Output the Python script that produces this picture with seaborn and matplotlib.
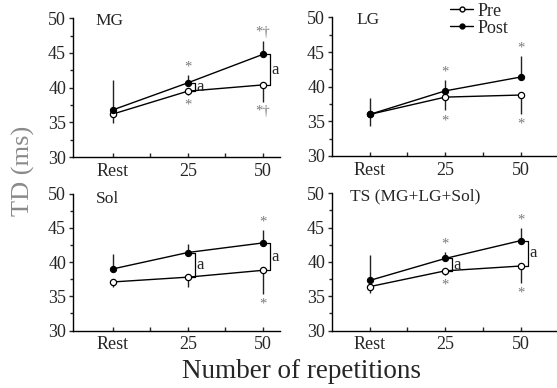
import numpy as np
import matplotlib
matplotlib.use("Agg")
import matplotlib.pyplot as plt
import seaborn as sns
from matplotlib.ticker import MultipleLocator, FixedLocator
from matplotlib.lines import Line2D

# --- DATA ---
conditions = ["Rest", "25", "50"]

mg_pre = [36.2, 39.5, 40.4]
mg_pre_err = [1.3, 0.5, 2.4]
mg_post = [36.8, 40.7, 44.8]
mg_post_err = [4.3, 1.1, 1.9]
mg_star_up = ["", "*", "*\u2020"]
mg_star_down = ["", "*", "*\u2020"]
mg_sig = [1, 2]

lg_pre = [36.0, 38.5, 38.8]
lg_pre_err = [1.6, 1.9, 2.7]
lg_post = [36.0, 39.4, 41.4]
lg_post_err = [2.3, 1.5, 3.0]
lg_star_up = ["", "*", "*"]
lg_star_down = ["", "*", "*"]
lg_sig = []

sol_pre = [37.1, 37.8, 38.8]
sol_pre_err = [0.8, 1.5, 3.4]
sol_post = [39.0, 41.4, 42.8]
sol_post_err = [2.2, 1.3, 1.9]
sol_star_up = ["", "", "*"]
sol_star_down = ["", "", "*"]
sol_sig = [1, 2]

ts_pre = [36.4, 38.7, 39.4]
ts_pre_err = [0.9, 0.6, 2.5]
ts_post = [37.3, 40.5, 43.1]
ts_post_err = [3.7, 0.9, 1.8]
ts_star_up = ["", "*", "*"]
ts_star_down = ["", "*", "*"]
ts_sig = [1, 2]

sns.set_style("ticks")
plt.rcParams["font.family"] = ["Liberation Serif", "DejaVu Serif"]

fig = plt.figure(figsize=(5.57, 3.88), dpi=100)

panels = [
    ("MG", [0.131, 0.595, 0.372, 0.358], (-0.53, 2.23),
     mg_pre, mg_pre_err, mg_post, mg_post_err, mg_star_up, mg_star_down, mg_sig, (0.11, 0.98)),
    ("LG", [0.596, 0.598, 0.404, 0.357], (-0.5, 2.48),
     lg_pre, lg_pre_err, lg_post, lg_post_err, lg_star_up, lg_star_down, lg_sig, (0.107, 0.98)),
    ("Sol", [0.131, 0.148, 0.372, 0.353], (-0.53, 2.23),
     sol_pre, sol_pre_err, sol_post, sol_post_err, sol_star_up, sol_star_down, sol_sig, (0.11, 0.96)),
    ("TS (MG+LG+Sol)", [0.596, 0.148, 0.404, 0.354], (-0.5, 2.48),
     ts_pre, ts_pre_err, ts_post, ts_post_err, ts_star_up, ts_star_down, ts_sig, (0.08, 0.98)),
]

x = np.arange(len(conditions))
star_col = "#7a7a7a"

for title, rect, xlim, pre, pre_e, post, post_e, s_up, s_dn, sig, tpos in panels:
    ax = fig.add_axes(rect)
    zeros = np.zeros(len(x))
    ax.errorbar(x, post, yerr=[zeros, post_e], fmt="none", ecolor="#222222",
                elinewidth=1, capsize=0, zorder=1)
    ax.errorbar(x, pre, yerr=[pre_e, zeros], fmt="none", ecolor="#222222",
                elinewidth=1, capsize=0, zorder=1)
    sns.lineplot(x=x, y=pre, ax=ax, color="black", lw=1, marker="o", markersize=4.5,
                 markerfacecolor="white", markeredgecolor="black", markeredgewidth=0.9, zorder=3)
    sns.lineplot(x=x, y=post, ax=ax, color="black", lw=1, marker="o", markersize=4.5,
                 markerfacecolor="black", markeredgecolor="black", zorder=3)

    # significance stars
    for i in range(len(x)):
        if s_up[i]:
            ax.text(x[i], post[i] + post_e[i] + 1.2, s_up[i], ha="center", va="center",
                    color=star_col, fontsize=10.5)
        if s_dn[i]:
            ax.text(x[i], pre[i] - pre_e[i] - 1.5, s_dn[i], ha="center", va="center",
                    color=star_col, fontsize=10.5)

    # Pre vs Post brackets
    for i in sig:
        bx = x[i] + 0.09
        ax.plot([bx - 0.06, bx, bx, bx - 0.06], [post[i], post[i], pre[i], pre[i]],
                color="black", lw=0.9)
        ax.text(bx + 0.02, (post[i] + pre[i]) / 2, "a", ha="left", va="center", fontsize=12)

    ax.text(tpos[0], tpos[1], title, transform=ax.transAxes, ha="left", va="center",
            fontsize=12.5)

    ax.set_xlim(*xlim)
    ax.set_ylim(30, 50)
    ax.set_xticks(x)
    ax.set_xticklabels(conditions)
    ax.xaxis.set_minor_locator(FixedLocator([0.5, 1.5]))
    ax.yaxis.set_major_locator(MultipleLocator(5))
    ax.yaxis.set_minor_locator(MultipleLocator(2.5))
    ax.tick_params(axis="x", which="both", direction="in", length=3, width=1, labelsize=13, pad=4)
    ax.tick_params(axis="y", which="major", direction="out", length=3, width=1, labelsize=13, pad=2)
    ax.tick_params(axis="y", which="minor", direction="out", length=2, width=1)
    for side in ["top", "right"]:
        ax.spines[side].set_visible(False)
    for side in ["left", "bottom"]:
        ax.spines[side].set_linewidth(1)
        ax.spines[side].set_color("black")
    ax.set_xlabel("")
    ax.set_ylabel("")

handles = [
    Line2D([0], [0], color="black", lw=1, marker="o", markersize=3.5,
           markerfacecolor="white", markeredgecolor="black"),
    Line2D([0], [0], color="black", lw=1, marker="o", markersize=3.5,
           markerfacecolor="black", markeredgecolor="black"),
]
fig.legend(handles, ["Pre", "Post"], loc="upper left", bbox_to_anchor=(0.785, 1.026),
           frameon=False, fontsize=13, handlelength=1.3, handletextpad=0.25,
           labelspacing=0.0, borderpad=0.2)

fig.text(0.542, 0.042, "Number of repetitions", ha="center", va="center", fontsize=19.5)
fig.text(0.043, 0.56, "TD (ms)", ha="center", va="center", rotation=90,
         fontsize=19, color="#8a8a8a")

plt.savefig("out.png", dpi=100)
